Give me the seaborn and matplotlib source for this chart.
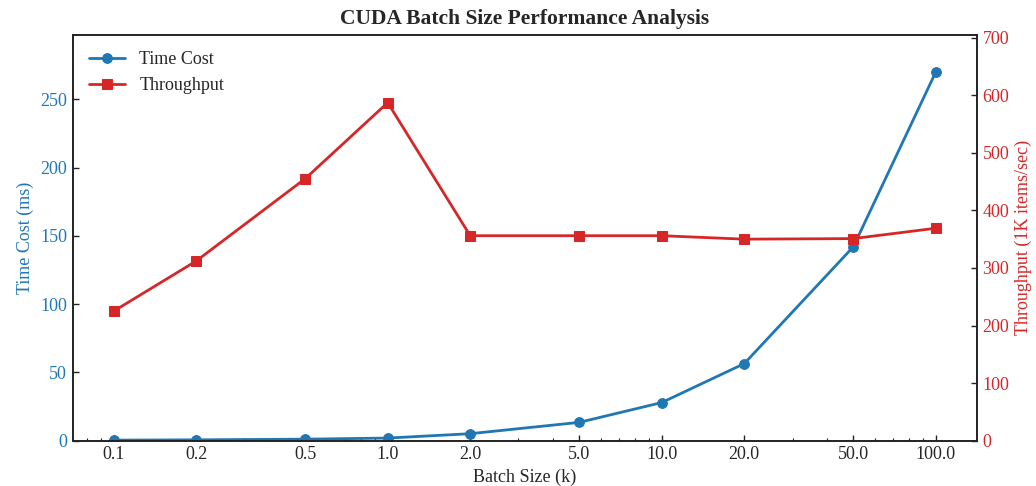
import numpy as np
import pandas as pd
import matplotlib
matplotlib.use("Agg")
import matplotlib.pyplot as plt
import seaborn as sns

# Datos
batch_sizes = [0.1, 0.2, 0.5, 1.0, 2.0, 5.0, 10.0, 20.0, 50.0, 100.0]
time_cost = [0.5, 0.7, 1.2, 2.0, 5.2, 13.5, 28.0, 56.5, 142.0, 270.0]
throughput = [225, 312, 455, 587, 356, 356, 356, 350, 351, 369]
tick_labels = ["0.1", "0.2", "0.5", "1.0", "2.0", "5.0", "10.0", "20.0", "50.0", "100.0"]

df = pd.DataFrame({"batch": batch_sizes, "time": time_cost, "thr": throughput})

sns.set_style("ticks")
plt.rcParams["font.family"] = ["Liberation Serif", "DejaVu Serif"]

blue = "#1f77b4"
red = "#d62728"

fig, ax1 = plt.subplots(figsize=(10.36, 4.86), dpi=100)
ax2 = ax1.twinx()

sns.lineplot(data=df, x="batch", y="time", ax=ax1, color=blue, marker="o",
             markersize=7, markeredgecolor=blue, linewidth=2, label="Time Cost", legend=False)
sns.lineplot(data=df, x="batch", y="thr", ax=ax2, color=red, marker="s",
             markersize=7, markeredgecolor=red, linewidth=2, label="Throughput", legend=False)

ax1.set_xscale("log")
ax1.set_xticks(batch_sizes)
ax1.set_xticklabels(tick_labels)
ax1.set_ylim(0, max(time_cost) * 1.1)
ax2.set_ylim(0, max(throughput) * 1.2)

ax1.set_xlabel("Batch Size (k)", fontsize=13, labelpad=4)
ax1.set_ylabel("Time Cost (ms)", fontsize=13, color=blue)
ax2.set_ylabel("Throughput (1K items/sec)", fontsize=13, color=red)

for ax in (ax1, ax2):
    ax.tick_params(which="major", direction="in", length=4, width=1, color="#222222", pad=4, labelsize=13)
    ax.tick_params(which="minor", direction="in", length=2.5, width=0.8, color="#222222")
    for s in ax.spines.values():
        s.set_color("#222222")
        s.set_linewidth(1.2)
ax1.tick_params(axis="y", labelcolor=blue)
ax2.tick_params(axis="y", labelcolor=red)

ax1.set_title("CUDA Batch Size Performance Analysis", fontsize=15.5, fontweight="bold", pad=8)

h1, l1 = ax1.get_legend_handles_labels()
h2, l2 = ax2.get_legend_handles_labels()
ax1.legend(h1 + h2, l1 + l2, loc="upper left", frameon=False, fontsize=13)

plt.subplots_adjust(left=0.07, right=0.943, top=0.928, bottom=0.093)
plt.savefig("out.png", dpi=100)
